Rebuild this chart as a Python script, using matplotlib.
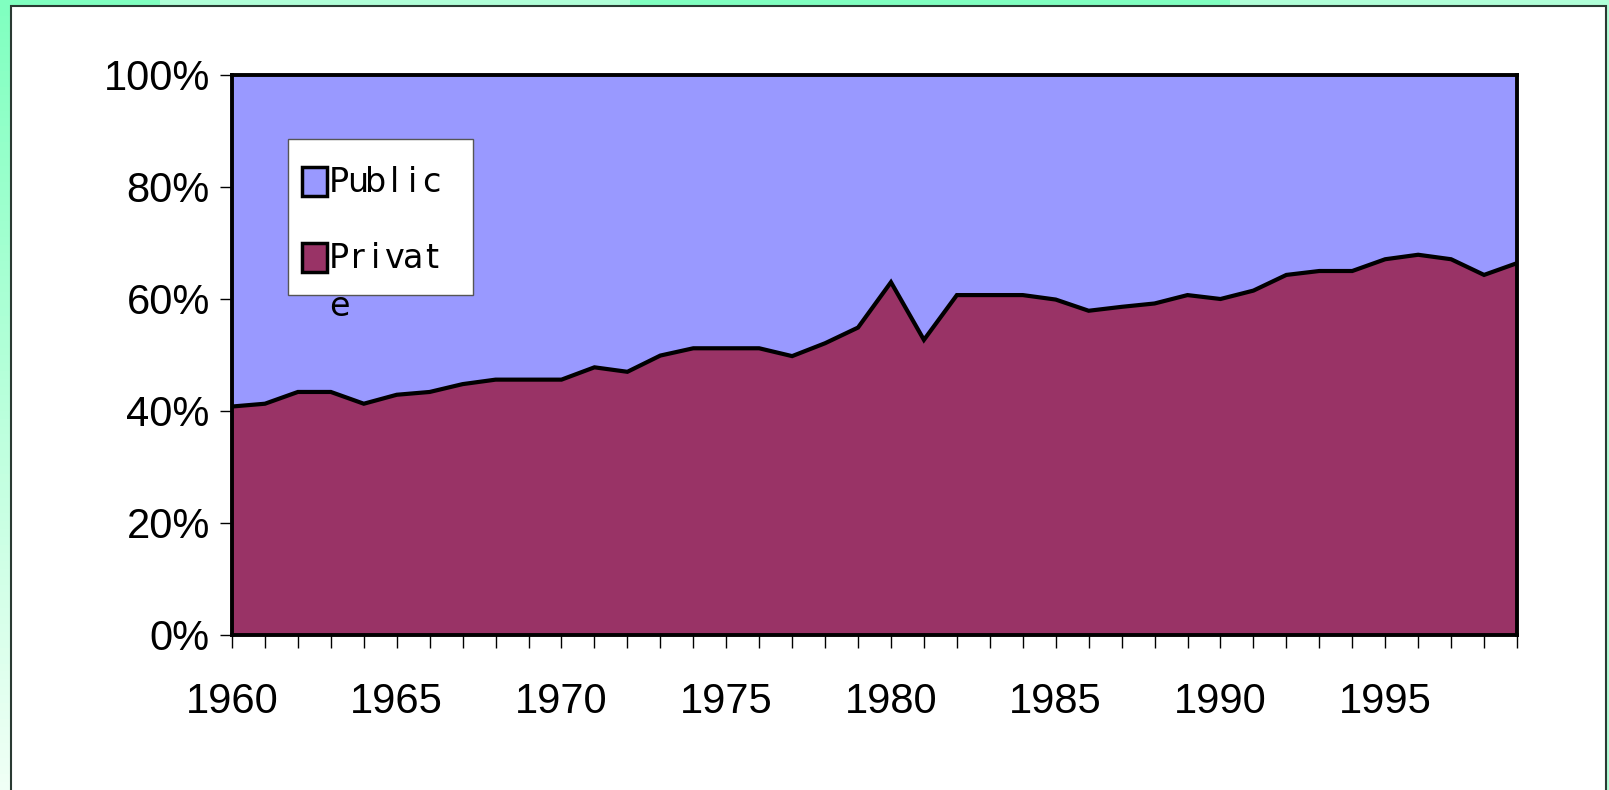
import numpy as np
import matplotlib.pyplot as plt
from matplotlib.patches import Rectangle
from matplotlib.colors import LinearSegmentedColormap

# share of private vs public, percent
years = list(range(1960, 2000))
private = [40.8, 41.3, 43.4, 43.4, 41.3, 42.9, 43.4, 44.8, 45.6, 45.6,
           45.6, 47.8, 47.0, 49.9, 51.2, 51.2, 51.2, 49.8, 52.1, 54.9,
           63.0, 52.7, 60.7, 60.7, 60.7, 59.9, 57.9, 58.6, 59.2, 60.7,
           60.0, 61.5, 64.3, 65.0, 65.0, 67.1, 67.9, 67.1, 64.3, 66.4]
total = [100] * len(years)
yticks = [0, 20, 40, 60, 80, 100]
ylabels = ["0%", "20%", "40%", "60%", "80%", "100%"]
xlabels = [1960, 1965, 1970, 1975, 1980, 1985, 1990, 1995]

W, H = 1609, 790
col_pub = "#9999ff"
col_priv = "#993366"

def fx(px):
  return px / W

def fy(py):
  return 1 - py / H

def pixel_axes(z):
  a = fig.add_axes([0, 0, 1, 1], zorder=z)
  a.set_axis_off()
  a.set_xlim(0, W)
  a.set_ylim(H, 0)
  a.patch.set_visible(False)
  return a

fig = plt.figure(figsize=(W / 100, H / 100), dpi=100)
fig.patch.set_facecolor("#b0ffd8")

# green backdrop bands, fading left strip, white panel
bg = pixel_axes(-10)
bg.add_patch(Rectangle((0, 0), 160, 8, color="#80ffc0", lw=0))
bg.add_patch(Rectangle((630, 0), 600, 8, color="#80ffc0", lw=0))
grad = np.linspace(0, 1, 100).reshape(-1, 1)
cm = LinearSegmentedColormap.from_list("g", ["#80ffc0", "#f0fff6"])
bg.imshow(grad, cmap=cm, extent=(0, 11, H, 0), aspect="auto")
bg.set_xlim(0, W)
bg.set_ylim(H, 0)
bg.add_patch(Rectangle((11, 6), 1595, 800, facecolor="white",
                       edgecolor="#2a3a33", lw=1.5))

ax = fig.add_axes([fx(232), fy(635), fx(1517) - fx(232), fy(75) - fy(635)])
ax.fill_between(years, 0, total, color=col_pub, lw=0)
ax.fill_between(years, 0, private, color=col_priv, lw=0)
ax.plot(years, private, color="black", lw=3.0, solid_joinstyle="miter")
ax.set_xlim(1960, 1999)
ax.set_ylim(0, 100)

for s in ax.spines.values():
  s.set_linewidth(2.8)
  s.set_color("black")

ax.set_yticks(yticks)
ax.set_yticklabels(ylabels)
ax.set_xticks(years, minor=True)
ax.set_xticks(xlabels)
ax.set_xticklabels([str(v) for v in xlabels])
ax.tick_params(axis="both", which="both", direction="out", length=9,
               width=1.0, color="black")
ax.tick_params(axis="y", pad=7)
ax.tick_params(axis="x", pad=25)
for lab in ax.get_yticklabels() + ax.get_xticklabels():
  lab.set_fontfamily("Liberation Sans")
  lab.set_fontsize(30)

# legend box drawn by hand
lg = pixel_axes(10)
lg.add_patch(Rectangle((288, 139), 185, 156, facecolor="white",
                       edgecolor="#555555", lw=1.0))
lg.add_patch(Rectangle((302, 167), 25, 29, facecolor=col_pub,
                       edgecolor="black", lw=2.5))
lg.add_patch(Rectangle((302, 243), 25, 29, facecolor=col_priv,
                       edgecolor="black", lw=2.5))

# fixed-width cells, one glyph per cell
def cell_text(s, x0, yc):
  for i, ch in enumerate(s):
    lg.text(x0 + 9 + 18.5 * i, yc, ch, family="DejaVu Sans", fontsize=24,
            va="center", ha="center")

cell_text("Public", 330, 182)
cell_text("Privat", 330, 258)
cell_text("e", 330, 306)

plt.savefig("out.png", dpi=100)
